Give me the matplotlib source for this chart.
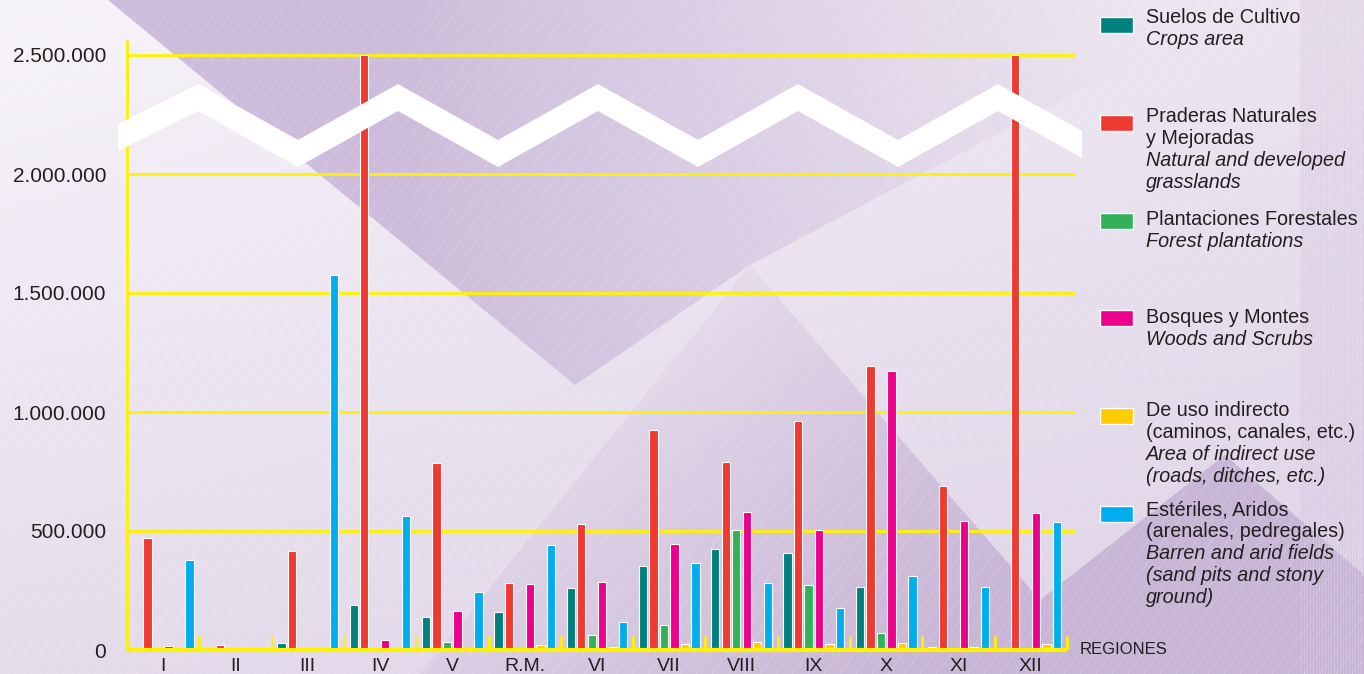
import numpy as np
import matplotlib
matplotlib.use("Agg")
import matplotlib.pyplot as plt
from matplotlib.patches import Polygon, Rectangle
from matplotlib.colors import to_rgb

plt.rcParams['font.family'] = ['Liberation Sans', 'DejaVu Sans']

# ---------------- data ----------------
regions = ["I", "II", "III", "IV", "V", "R.M.", "VI", "VII", "VIII", "IX", "X", "XI", "XII"]
cultivo    = [10000, 2000, 28000, 188000, 140000, 161000, 259000, 352000, 423000, 408000, 266000, 14000, 10000]
praderas   = [472000, 21000, 415000, 2500000, 786000, 281000, 531000, 924000, 790000, 962000, 1193000, 689000, 2500000]
forestales = [3000, 1000, 2000, 5000, 35000, 10000, 63000, 104000, 505000, 273000, 70000, 5000, 3000]
bosques    = [17000, 0, 0, 42000, 165000, 279000, 284000, 447000, 581000, 503000, 1172000, 543000, 576000]
indirecto  = [4000, 2000, 2000, 3000, 10000, 21000, 14000, 24000, 34000, 25000, 31000, 11000, 27000]
esteriles  = [378000, 8000, 1575000, 563000, 244000, 441000, 116000, 367000, 280000, 178000, 310000, 266000, 539000]

series = [cultivo, praderas, forestales, bosques, indirecto, esteriles]
colors = ["#00807F", "#EE3A31", "#34B158", "#EC008C", "#FFCC00", "#00AEEF"]
legend_es = [["Suelos de Cultivo"], ["Praderas Naturales", "y Mejoradas"], ["Plantaciones Forestales"],
             ["Bosques y Montes"], ["De uso indirecto", "(caminos, canales, etc.)"],
             ["Estériles, Aridos", "(arenales, pedregales)"]]
legend_en = [["Crops area"], ["Natural and developed", "grasslands"], ["Forest plantations"],
             ["Woods and Scrubs"], ["Area of indirect use", "(roads, ditches, etc.)"],
             ["Barren and arid fields", "(sand pits and stony", "ground)"]]
yticks = [0, 500000, 1000000, 1500000, 2000000, 2500000]

W, H = 1364, 674
YEL = "#FFF200"
TXT = "#231F20"

fig = plt.figure(figsize=(W / 100, H / 100), dpi=100)

# ---------------- background ----------------
bg = fig.add_axes([0, 0, 1, 1], zorder=0)
bg.set_xlim(0, W); bg.set_ylim(H, 0); bg.axis('off')

ny, nx = 120, 240
gx = np.linspace(0, 1, nx)[None, :]
gy = np.linspace(0, 1, ny)[:, None]
tl, tr, bl, br = [np.array(to_rgb(c)) for c in ("#f7f4f9", "#ebe4f0", "#e5dcec", "#ddd2e7")]
img = ((1 - gx) * (1 - gy))[..., None] * tl + (gx * (1 - gy))[..., None] * tr + \
      ((1 - gx) * gy)[..., None] * bl + (gx * gy)[..., None] * br
bg.imshow(img, extent=(0, W, H, 0), aspect='auto', zorder=0, interpolation='bilinear')

# dark top band, fading to the right
px = np.linspace(0, W, nx)[None, :]
py = np.linspace(0, H, ny)[:, None]
c1 = np.array(to_rgb("#cdbcdb"))
a1 = np.clip((1150 - px) / 750, 0, 1) * np.ones_like(py)
rgba1 = np.zeros((ny, nx, 4)); rgba1[..., :3] = c1; rgba1[..., 3] = a1
im1 = bg.imshow(rgba1, extent=(0, W, H, 0), aspect='auto', zorder=1, interpolation='bilinear')
p1 = Polygon([(108, 0), (1250, 0), (750, 265), (575, 385)], closed=True, transform=bg.transData,
             facecolor='none', edgecolor='none')
bg.add_patch(p1); im1.set_clip_path(p1)

# lower mountain shape
c2 = np.array(to_rgb("#c9b6d6"))
a2 = np.clip((px + py - 900) / 700, 0.15, 1)
rgba2 = np.zeros((ny, nx, 4)); rgba2[..., :3] = c2; rgba2[..., 3] = a2
im2 = bg.imshow(rgba2, extent=(0, W, H, 0), aspect='auto', zorder=1, interpolation='bilinear')
p2 = Polygon([(750, 265), (1040, 600), (1225, 455), (1364, 575), (1364, 674), (420, 674)], closed=True,
             transform=bg.transData, facecolor='none', edgecolor='none')
bg.add_patch(p2); im2.set_clip_path(p2)

# right vertical band with pinstripes
bg.add_patch(Rectangle((1300, 0), 64, H, facecolor="#c5b1d3", alpha=0.22, edgecolor='none', zorder=2))
for xx in np.arange(1301, 1364, 3):
    bg.plot([xx, xx], [0, H], color='white', alpha=0.18, lw=0.8, zorder=2)

# faint diagonal hatch lines
for x0 in np.arange(-600, W + 20, 16):
    bg.plot([x0, x0 + 0.75 * H], [H, 0], color='white', alpha=0.25, lw=0.5, zorder=3)

# ---------------- main chart ----------------
left_px, right_px, bottom_px, top_px = 127, 1075, 650, 40
ax = fig.add_axes([left_px / W, (H - bottom_px) / H, (right_px - left_px) / W, (bottom_px - top_px) / H], zorder=2)
ax.patch.set_alpha(0)
group_w = 72.3
x0 = -0.5
x1 = x0 + (right_px - left_px) / group_w
ytop = 2500000 * (bottom_px - top_px) / (bottom_px - 55)
ax.set_xlim(x0, x1)
ax.set_ylim(0, ytop)
for s in ax.spines.values():
    s.set_visible(False)

x = np.arange(len(regions))
ax.hlines(yticks[1:], x0, x1, colors=YEL, lw=2, zorder=1)
ax.plot([x0, x0], [0, ytop], color=YEL, lw=2, zorder=1, clip_on=False, solid_capstyle='butt')
ax.plot([x0, len(regions) - 0.5], [0, 0], color=YEL, lw=3, zorder=4, clip_on=False, solid_capstyle='butt')
ax.vlines(x + 0.5, 0, 60000, colors=YEL, lw=2, zorder=4)

pitch = 0.145
bw = 0.115
for j, (vals, c) in enumerate(zip(series, colors)):
    ax.bar(x + (j - 2.5) * pitch, vals, width=bw, color=c, edgecolor='white', linewidth=0.8, zorder=3)

ax.set_yticks(yticks)
ax.set_yticklabels([f"{v:,.0f}".replace(",", ".") for v in yticks], fontsize=15, color=TXT)
ax.set_xticks(x)
ax.set_xticklabels(regions, fontsize=14, color=TXT)
ax.tick_params(axis='y', length=0, pad=15)
ax.tick_params(axis='x', length=0, pad=6)

# ---------------- overlay: axis break, legend ----------------
ov = fig.add_axes([0, 0, 1, 1], zorder=3)
ov.set_xlim(0, W); ov.set_ylim(H, 0); ov.axis('off')
ov.patch.set_alpha(0)
zx = [118, 198, 298, 398, 498, 598, 698, 798, 898, 998, 1082]
zt = [124, 84, 140, 84, 140, 84, 140, 84, 140, 84, 131]
zb = [t + 27 for t in zt]
ov.add_patch(Polygon(list(zip(zx, zt)) + list(zip(zx[::-1], zb[::-1])), closed=True,
                     facecolor='white', edgecolor='none'))

sq_centers = [25, 123, 221, 318, 416, 514]
first_base = [23, 122, 225, 323, 416, 515]
step = 22
for c, es, en, yc, yb in zip(colors, legend_es, legend_en, sq_centers, first_base):
    ov.add_patch(Rectangle((1100, yc - 8), 33, 16, facecolor=c, edgecolor='white', lw=1))
    k = 0
    for line in es:
        ov.text(1146, yb + k * step, line, fontsize=14.2, color=TXT, va='baseline', ha='left')
        k += 1
    for line in en:
        ov.text(1146, yb + k * step, line, fontsize=14.2, color=TXT, va='baseline', ha='left', style='italic')
        k += 1

ov.text(1080, 654, "REGIONES", fontsize=12, color=TXT, va='baseline', ha='left')

fig.savefig("out.png", dpi=100)
